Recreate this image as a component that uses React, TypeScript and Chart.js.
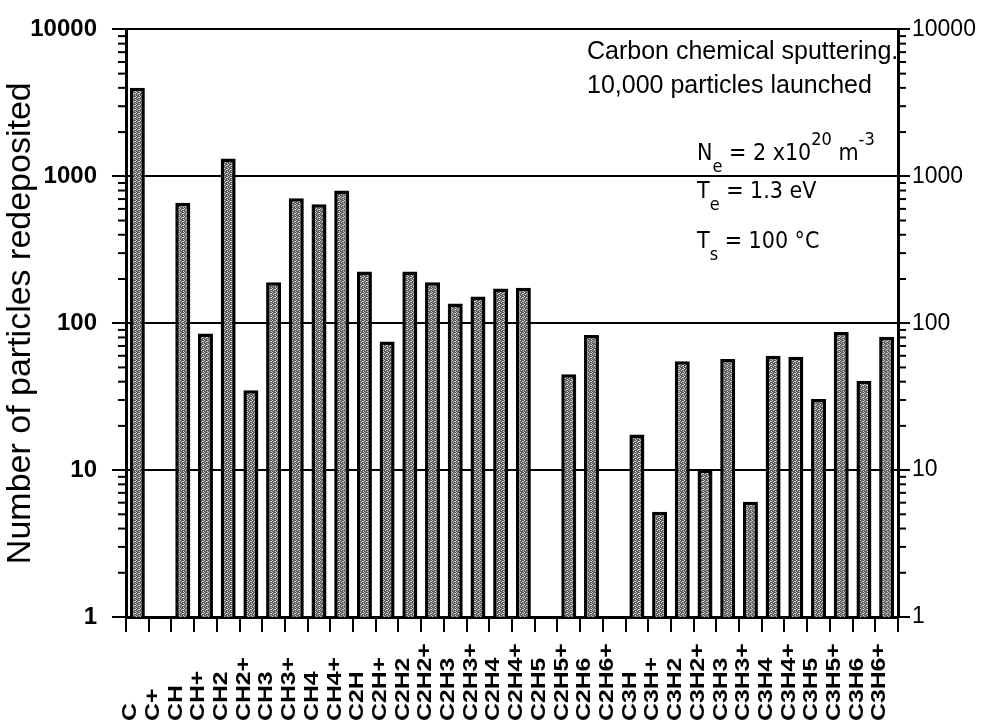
import React, { useEffect, useRef } from "react";
import { Chart, registerables } from "chart.js";

Chart.register(...registerables);

const species = [
  "C", "C+", "CH", "CH+", "CH2", "CH2+", "CH3", "CH3+", "CH4", "CH4+",
  "C2H", "C2H+", "C2H2", "C2H2+", "C2H3", "C2H3+", "C2H4", "C2H4+",
  "C2H5", "C2H5+", "C2H6", "C2H6+",
  "C3H", "C3H+", "C3H2", "C3H2+", "C3H3", "C3H3+", "C3H4", "C3H4+",
  "C3H5", "C3H5+", "C3H6", "C3H6+",
];

const redeposited: (number | null)[] = [
  4000, null, 660, 85, 1320, 35, 190, 710, 645, 800,
  225, 75, 225, 190, 136, 152, 172, 174,
  null, 45, 83, null,
  17.5, 5.2, 55, 10.1, 57, 6.1, 60, 59,
  30.5, 87, 40.5, 81,
];

const majorTicks = [1, 10, 100, 1000, 10000];
const minorDigits = [2, 3, 4, 5, 6, 7, 8, 9];

const yTitle = "Number of particles redeposited";
const noteLine1 = "Carbon chemical sputtering.";
const noteLine2 = "10,000 particles launched";

const SANS = '"Liberation Sans", Arial, Helvetica, sans-serif';
const NARROW = '"Liberation Sans Narrow", "Arial Narrow", "DejaVu Sans Condensed", sans-serif';

const isMajor = (v: number) => majorTicks.includes(v);

function makePattern(): CanvasPattern | string {
  const c = document.createElement("canvas");
  c.width = 4;
  c.height = 4;
  const g = c.getContext("2d");
  if (!g) return "#888";
  g.fillStyle = "#5e5e5e";
  g.fillRect(0, 0, 4, 4);
  g.fillStyle = "#cfcfcf";
  const light = [[0, 0], [2, 1], [1, 2], [3, 3], [3, 1]];
  light.forEach(([x, y]) => g.fillRect(x, y, 1, 1));
  const p = g.createPattern(c, "repeat");
  return p || "#888";
}

const decorPlugin = {
  id: "decor",
  afterDraw(chart: any) {
    const ctx: CanvasRenderingContext2D = chart.ctx;
    const y = chart.scales.y;
    const y2 = chart.scales.y2;
    const x = chart.scales.x;
    const area = chart.chartArea;
    ctx.save();
    // minor log ticks, outward
    ctx.strokeStyle = "#000";
    ctx.lineWidth = 2;
    for (let k = 0; k < 4; k++) {
      minorDigits.forEach((d) => {
        const v = d * Math.pow(10, k);
        const py = y.getPixelForValue(v);
        ctx.beginPath();
        ctx.moveTo(area.left, py);
        ctx.lineTo(area.left - 8, py);
        ctx.stroke();
        const py2 = y2.getPixelForValue(v);
        ctx.beginPath();
        ctx.moveTo(area.right, py2);
        ctx.lineTo(area.right + 8, py2);
        ctx.stroke();
      });
    }
    // x labels, rotated, bottom-aligned
    ctx.fillStyle = "#000";
    ctx.font = `bold 21px ${SANS}`;
    ctx.textAlign = "left";
    ctx.textBaseline = "middle";
    species.forEach((s, i) => {
      const px = x.getPixelForValue(i) - 7;
      ctx.save();
      ctx.translate(px, 721);
      ctx.rotate(-Math.PI / 2);
      ctx.scale(1.18, 1);
      ctx.fillText(s, 0, 0);
      ctx.restore();
    });
    // annotation
    ctx.textBaseline = "alphabetic";
    ctx.font = `25px ${SANS}`;
    ctx.fillText(noteLine1, 587, 59);
    ctx.fillText(noteLine2, 587, 93);

    const big = `23px ${NARROW}`;
    const small = `18px ${NARROW}`;
    const drawRun = (parts: [string, string, number][], x0: number, base: number) => {
      let cx = x0;
      parts.forEach(([t, f, dy]) => {
        ctx.font = f;
        ctx.fillText(t, cx, base + dy);
        cx += ctx.measureText(t).width;
      });
    };
    drawRun([
      ["N", big, 0], ["e", small, 12], [" = 2 x10", big, 0], ["20", small, -15], [" m", big, 0], ["-3", small, -15],
    ], 697, 160);
    drawRun([["T", big, 0], ["e", small, 12], [" = 1.3 eV", big, 0]], 697, 198);
    drawRun([["T", big, 0], ["s", small, 12], [" = 100 \u00B0C", big, 0]], 697, 248);
    ctx.restore();
  },
};

export default function App() {
  const ref = useRef<HTMLCanvasElement | null>(null);
  useEffect(() => {
    if (!ref.current) return;
    const pattern = makePattern();
    const tickCb = (v: any) => (isMajor(Number(v)) ? String(v) : "");
    const majorColor = (c: any) => (c.tick && isMajor(c.tick.value) ? "#000" : "rgba(0,0,0,0)");
    const chart = new Chart(ref.current, {
      type: "bar",
      data: {
        labels: species,
        datasets: [
          {
            data: redeposited as any,
            backgroundColor: pattern as any,
            borderColor: "#000",
            borderWidth: 3.5,
            barPercentage: 0.66,
            categoryPercentage: 1,
            yAxisID: "y",
          },
        ],
      },
      options: {
        responsive: false,
        animation: false,
        devicePixelRatio: 1,
        layout: { padding: { top: 26, left: 0, right: 0, bottom: 0 } },
        plugins: { legend: { display: false }, tooltip: { enabled: false } },
        scales: {
          x: {
            type: "category",
            offset: true,
            grid: {
              offset: true,
              drawOnChartArea: false,
              drawTicks: true,
              tickLength: 15,
              color: "#000",
              lineWidth: 2,
            },
            border: { display: true, color: "#000", width: 3 },
            ticks: { display: false },
            afterFit: (s: any) => {
              s.height = 109;
            },
          },
          y: {
            type: "logarithmic",
            position: "left",
            min: 1,
            max: 10000,
            grid: {
              color: majorColor,
              tickColor: majorColor,
              lineWidth: 2,
              drawTicks: true,
              tickLength: 14,
            },
            border: { display: true, color: "#000", width: 3 },
            ticks: {
              autoSkip: false,
              callback: tickCb,
              color: "#000",
              padding: 15,
              font: { family: SANS, size: 24, weight: "bold" },
            },
            title: {
              display: true,
              text: yTitle,
              color: "#000",
              padding: 0,
              font: { family: SANS, size: 34 },
            },
            afterFit: (s: any) => {
              s.width = 126;
            },
          },
          y2: {
            type: "logarithmic",
            position: "right",
            min: 1,
            max: 10000,
            grid: {
              drawOnChartArea: false,
              tickColor: majorColor,
              lineWidth: 2,
              drawTicks: true,
              tickLength: 12,
            },
            border: { display: true, color: "#000", width: 3 },
            ticks: {
              autoSkip: false,
              callback: tickCb,
              color: "#000",
              padding: 2,
              font: { family: SANS, size: 23 },
            },
            afterFit: (s: any) => {
              s.width = 107;
            },
          },
        },
      } as any,
      plugins: [decorPlugin],
    });
    return () => chart.destroy();
  }, []);
  return (
    <div style={{ position: "absolute", left: 0, top: 0, width: 1005, height: 726, background: "#fff" }}>
      <canvas ref={ref} width={1005} height={726} style={{ display: "block" }} />
    </div>
  );
}
